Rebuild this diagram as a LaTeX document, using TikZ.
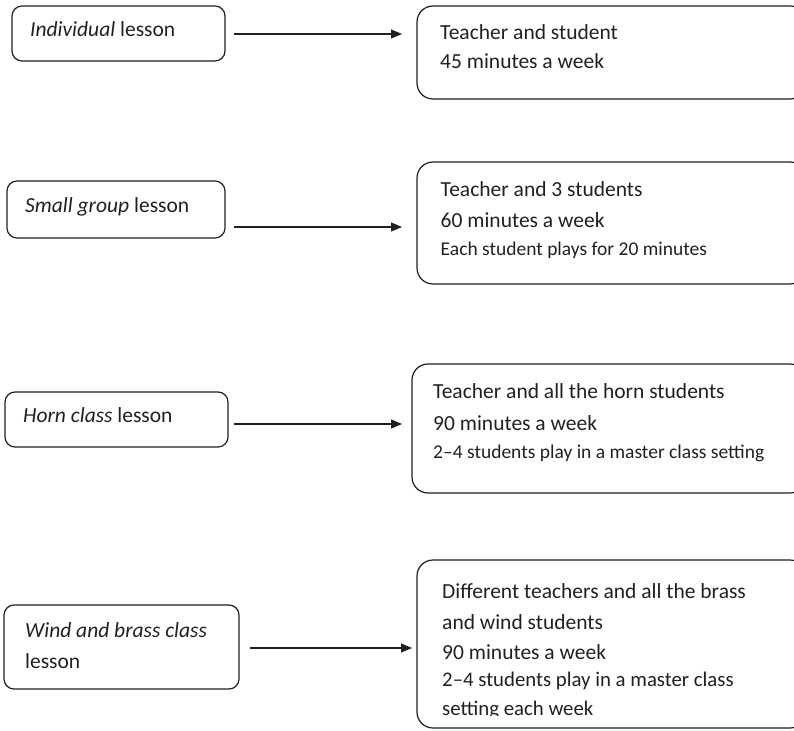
\documentclass[tikz,border=0pt]{standalone}
\usepackage{fontspec}
\setmainfont{Carlito}
\usetikzlibrary{arrows.meta}
\definecolor{ink}{HTML}{231F20}
\begin{document}
\begin{tikzpicture}[x=1pt,y=-1pt,
  lbox/.style={draw=ink,line width=1.2pt,rounded corners=10pt,inner sep=0pt,outer sep=0pt},
  rbox/.style={draw=ink,line width=1.2pt,rounded corners=16pt,inner sep=0pt,outer sep=0pt},
  txt/.style={anchor=base west,inner sep=0pt,text=ink,font=\fontsize{21.5}{26}\selectfont},
  sml/.style={anchor=base west,inner sep=0pt,text=ink,font=\fontsize{19.5}{24}\selectfont},
  mid/.style={anchor=base west,inner sep=0pt,text=ink,font=\fontsize{20.8}{25}\selectfont},
  arr/.style={draw=ink,line width=1.1pt,-{Triangle[length=11pt,width=9pt]}}]
\useasboundingbox (0,0) rectangle (794,730);
\clip (0,0) rectangle (794,730);
% left boxes
\node[lbox,minimum width=213pt,minimum height=55pt] (l1) at (118.5,33.5) {};
\node[lbox,minimum width=218pt,minimum height=57pt] (l2) at (116,209.5) {};
\node[lbox,minimum width=223pt,minimum height=55pt] (l3) at (116.5,419.5) {};
\node[lbox,minimum width=235pt,minimum height=84pt] (l4) at (121.5,647) {};
% right boxes
\node[rbox,minimum width=389pt,minimum height=93pt] (r1) at (611.5,52.5) {};
\node[rbox,minimum width=389pt,minimum height=122pt] (r2) at (611.5,223) {};
\node[rbox,minimum width=394pt,minimum height=129pt] (r3) at (609,428.5) {};
\node[rbox,minimum width=389pt,minimum height=168pt] (r4) at (611.5,644) {};
% left texts
\node[txt] (t1) at (30,36.7) {\textit{Individual} lesson};
\node[txt] (t2) at (25,212.7) {\textit{Small group} lesson};
\node[txt] (t3) at (23,422.7) {\textit{Horn class} lesson};
\node[txt] (t4a) at (25,637) {\textit{Wind and brass class}};
\node[txt] (t4b) at (25,668) {lesson};
% right texts
\node[txt] (u1a) at (440,40) {Teacher and student};
\node[txt] (u1b) at (440,68.3) {45 minutes a week};
\node[txt] (u2a) at (440.5,196.7) {Teacher and 3 students};
\node[txt] (u2b) at (440.5,227.5) {60 minutes a week};
\node[sml] (u2c) at (440.5,255) {Each student plays for 20 minutes};
\node[txt] (u3a) at (433,398.3) {Teacher and all the horn students};
\node[txt] (u3b) at (433,430) {90 minutes a week};
\node[sml] (u3c) at (433,458.3) {2–4 students play in a master class setting};
\node[txt] (u4a) at (442,598.3) {Different teachers and all the brass};
\node[txt] (u4b) at (442,629.3) {and wind students};
\node[txt] (u4c) at (442,659.3) {90 minutes a week};
\node[mid] (u4d) at (442,686.7) {2–4 students play in a master class};
\begin{scope}
\clip (0,0) rectangle (794,715.5);
\node[mid] (u4e) at (442,715) {setting each week};
\end{scope}
% arrows
\draw[arr,shorten >=15pt] (l1.east) ++(9,0.5) coordinate (s1) -- (s1 -| r1.west);
\draw[arr,shorten >=15pt] (l2.east) ++(9,17.5) coordinate (s2) -- (s2 -| r2.west);
\draw[arr,shorten >=10pt] (l3.east) ++(6,4.5) coordinate (s3) -- (s3 -| r3.west);
\draw[arr,shorten >=5pt] (l4.east) ++(11,1) coordinate (s4) -- (s4 -| r4.west);
\end{tikzpicture}
\end{document}
